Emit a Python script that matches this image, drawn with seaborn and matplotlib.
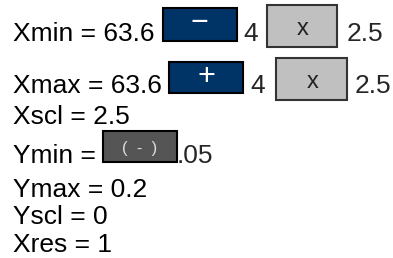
import matplotlib
matplotlib.use("Agg")
import matplotlib.pyplot as plt
import matplotlib.patches as patches
import seaborn as sns

# window settings as shown on the card
labels = ["Xmin", "Xmax", "Xscl", "Ymin", "Ymax", "Yscl", "Xres"]
values = ["63.6", "63.6", "2.5", "", "0.2", "0", "1"]
signs = ["\u2212", "+"]          # blue buttons on the Xmin / Xmax lines
factor = "4"
times = "x"
step = "2.5"
ymin_button = "(  -  )"
ymin_tail = ".05"

sns.set_theme(style="white")
plt.rcParams["font.family"] = ["Liberation Sans", "DejaVu Sans"]

fig = plt.figure(figsize=(3.93, 2.58), dpi=100)
ax = fig.add_axes([0, 0, 1, 1])
ax.set_xlim(0, 393)
ax.set_ylim(258, 0)
ax.axis("off")

fs = 19
baselines = [41, 93, 124, 163, 197, 224, 252]

for lab, val, yb in zip(labels, values, baselines):
    txt = lab + " = " + val if val else lab + " ="
    ax.text(13, yb, txt, fontsize=fs, va="baseline", ha="left", color="black")

# blue sign buttons + "4" + grey "x" box + "2.5"
blue_boxes = [(163, 8, 74, 33), (169, 62, 74, 31)]
sign_pos = [(199, 31), (206, 85)]
four_x = [243, 250]
grey_boxes = [(267, 5, 70, 42), (276, 58, 71, 42)]
tail_x = [347, 355]

for i in range(2):
    x, y, w, h = blue_boxes[i]
    ax.add_patch(patches.Rectangle((x, y), w, h, facecolor="#003366",
                                   edgecolor="black", linewidth=1.5))
    ax.text(sign_pos[i][0], sign_pos[i][1], signs[i], fontsize=22, color="white",
            ha="center", va="baseline")
    ax.text(four_x[i], baselines[i], factor, fontsize=fs, va="baseline")
    x, y, w, h = grey_boxes[i]
    ax.add_patch(patches.Rectangle((x, y), w, h, facecolor="#c0c0c0",
                                   edgecolor="#333333", linewidth=1.5))
    ax.text(x + w / 2 + 1, y + 30, times, fontsize=17, color="#222222",
            ha="center", va="baseline")
    ax.text(tail_x[i], baselines[i], step, fontsize=fs, va="baseline")

# Ymin button
ax.add_patch(patches.Rectangle((103, 131), 74, 31, facecolor="#555555",
                               edgecolor="black", linewidth=1.5))
ax.text(140, 149, ymin_button, fontsize=12, color="white", alpha=0.8,
        ha="center", va="center", fontweight="light")
ax.text(177, baselines[3], ymin_tail, fontsize=fs, va="baseline")

fig.savefig("out.png", dpi=100, facecolor="white")
